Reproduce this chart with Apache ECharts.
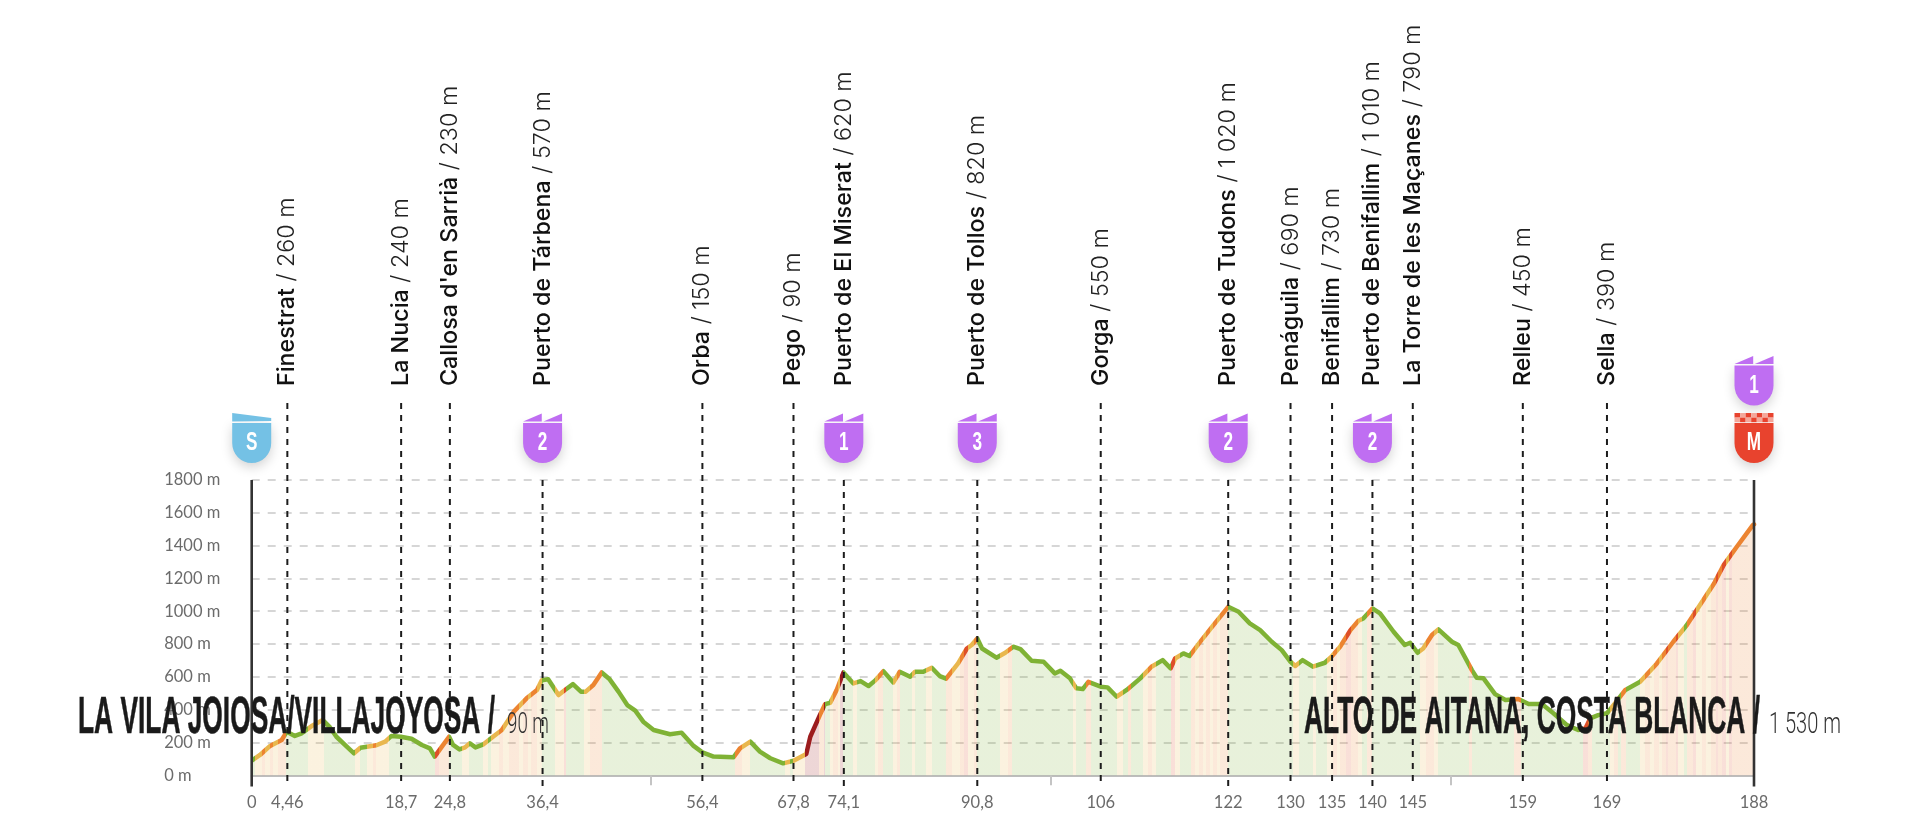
<!DOCTYPE html>
<html><head><meta charset="utf-8">
<style>html,body{margin:0;padding:0;background:#fff}#c{width:1920px;height:834px}</style>
<script src="https://cdn.jsdelivr.net/npm/echarts@6/dist/echarts.min.js"></script>
</head><body><div id="c"></div>
<script>
// elevation profile: [km, metres]
const profile = [[0,90],[1.04,124],[2.3,179],[3.75,215],[4.4,266],[5.4,240],[6.26,256],[7.5,300],[8.9,337],[9.8,292],[10.6,235],[11.9,175],[12.8,134],[13.6,168],[14.6,175],[15.6,183],[16.7,205],[17.5,240],[18.65,235],[20,223],[21.3,185],[22.3,164],[22.9,114],[23.8,175],[24.7,235],[25.2,185],[26,158],[26.7,170],[27.3,195],[28,170],[29,189],[30.2,235],[31.3,276],[32.8,388],[34.4,469],[35.7,520],[36.3,580],[37.1,585],[38.4,489],[39.2,520],[40.2,556],[41.2,510],[41.8,510],[42.75,550],[43.8,627],[44.8,585],[45.9,510],[47,428],[48,394],[49,327],[50.3,276],[52.35,250],[53.8,260],[55.3,179],[56.4,140],[57.8,114],[60.3,110],[61.1,164],[62.4,205],[63.6,144],[64.9,104],[66.5,73],[67.8,89],[69.4,130],[69.9,235],[71.1,367],[71.75,434],[72.4,442],[73.2,520],[74.05,627],[75.3,560],[76.2,574],[77.2,544],[78,577],[79.05,635],[80.3,566],[81.1,631],[82.4,601],[83,631],[84.05,631],[85.1,656],[86.1,605],[86.9,589],[88.4,682],[89.5,773],[90.1,794],[90.8,834],[91.4,773],[93.2,717],[94.3,747],[95.3,784],[96.2,769],[97.6,698],[99.1,692],[100.5,621],[101.2,637],[102.4,591],[103.2,530],[104,526],[104.7,570],[106.25,540],[107.1,536],[108.25,479],[109.5,520],[111.2,591],[112.6,662],[114,702],[115,652],[115.55,712],[116.6,743],[117.35,727],[118.7,814],[120.35,916],[122.2,1027],[123.5,997],[124.9,926],[126.2,885],[127.65,814],[128.9,763],[130,692],[130.6,666],[131.5,702],[132.8,662],[134.3,686],[135.2,727],[136.2,784],[137.5,885],[138.5,942],[139.1,956],[140.25,1017],[141.2,987],[142.9,875],[144.3,794],[144.97,808],[145.9,747],[146.6,773],[147.7,855],[148.5,889],[150.2,814],[151,794],[152.7,641],[153.3,595],[154.15,591],[155.6,495],[156.9,459],[158.5,465],[159.8,434],[161.45,434],[162.9,378],[164.6,306],[166,276],[166.9,286],[167.5,347],[168.5,367],[169.6,378],[170.6,438],[171.9,520],[173.75,570],[175.85,682],[177.9,814],[179.6,916],[181.3,1043],[183,1169],[184.2,1281],[185.85,1393],[187.85,1525],[188,1530]];

// gradient bands along the route: [end km, level] (0 green, 1 yellow, 2 orange, 3 red, 4 dark red)
const gradeBands = [[0.4,0],[1.3,1],[1.7,2],[2.3,1],[2.7,2],[3.3,1],[4.3,2],[7,0],[9,1],[12.9,0],[13.6,1],[14.4,0],[15.2,1],[15.6,2],[17.2,1],[22.9,0],[23.5,3],[24.7,2],[26.3,0],[27.2,1],[29,0],[29.6,1],[30,0],[31,1],[31.5,2],[32.2,1],[33.4,2],[33.9,1],[34.6,2],[35,1],[35.7,2],[36.3,1],[38,0],[39.1,1],[39.3,3],[41.6,0],[42.3,1],[43.8,2],[45,0],[60.5,0],[61.3,2],[62.4,1],[66.7,0],[67.4,1],[67.8,0],[69.3,1],[71,4],[71.6,2],[71.8,4],[72.4,0],[72.8,1],[73.4,2],[73.6,1],[74.05,4],[75.2,0],[75.7,1],[78,0],[78.4,1],[79.05,2],[80.3,0],[80.7,1],[81.1,2],[82.6,0],[83,1],[84.4,0],[85.1,1],[86.9,0],[87.6,2],[88.6,1],[89.1,2],[89.6,3],[90.4,1],[90.8,2],[93.6,0],[94.6,1],[95.2,2],[102.8,0],[103.1,1],[104.4,0],[105,2],[108.3,0],[109,1],[109.6,0],[110,2],[111.5,0],[112.2,1],[112.7,2],[113.2,1],[115,0],[115.6,3],[116.2,1],[117.6,0],[118,2],[118.5,1],[119,2],[119.4,1],[119.9,2],[120.3,1],[120.8,2],[121.2,1],[122.2,2],[130.3,0],[131,1],[132.8,0],[133.2,1],[134.6,0],[135.3,1],[135.8,2],[136.2,1],[137,2],[137.6,3],[138.4,2],[139,1],[139.6,0],[140.25,2],[146.2,0],[147,1],[148,2],[148.5,1],[152.3,0],[152.7,2],[158,0],[158.9,2],[166.6,0],[167.2,3],[167.7,2],[170,0],[170.5,1],[171,2],[171.4,0],[172,2],[173.7,0],[174.3,1],[175,2],[175.5,1],[176.1,2],[176.5,1],[177,2],[177.2,3],[178.2,2],[178.5,3],[179.2,1],[179.6,0],[180.4,2],[180.8,3],[181.5,1],[182,2],[182.6,1],[183.2,2],[183.5,3],[184,2],[184.5,3],[184.9,1],[185.3,3],[188,2]];
const gradeColors = ['#7FB235','#E9B74E','#EC8431','#DE4F28','#9C1C1E'];

// places along the route
const placeNames = ['Finestrat','La Nucia',"Callosa d'en Sarrià",'Puerto de Tárbena','Orba','Pego','Puerto de El Miserat','Puerto de Tollos','Gorga','Puerto de Tudons','Penáguila','Benifallim','Puerto de Benifallim','La Torre de les Maçanes','Relleu','Sella'];
const placeKm = [4.46,18.7,24.8,36.4,56.4,67.8,74.1,90.8,106.25,122.2,130,135.2,140.25,145.3,159.07,169.6];
const placeKmLabel = ['4,46','18,7','24,8','36,4','56,4','67,8','74,1','90,8','106','122','130','135','140','145','159','169'];
const placeAlt = ['260 m','240 m','230 m','570 m','150 m','90 m','620 m','820 m','550 m','1 020 m','690 m','730 m','1 010 m','790 m','450 m','390 m'];
const placeHasBadge = [0,0,0,1,0,0,1,1,0,1,0,0,1,0,0,0];

// badges
const badgeKm = [0,36.4,74.1,90.8,122.2,140.25,188,188];
const badgeText = ['S','2','1','3','2','2','1','M'];
const badgeKind = ['start','climb','climb','climb','climb','climb','climbTop','finish'];

const xMinorTicks = [50,100,150];
const totalKm = 188;

const startTitle = 'LA VILA JOIOSA/VILLAJOYOSA /';
const startAlt = '90 m';
const finishTitle = 'ALTO DE AITANA, COSTA BLANCA /';
const finishAlt = '1 530 m';

const xLabelMap = {0:'0'}; xLabelMap[totalKm] = String(totalKm);
placeKm.forEach((k,i)=>{xLabelMap[k]=placeKmLabel[i];});

const pieces = [];
let prev = 0;
gradeBands.forEach(b => { pieces.push({gte: prev, lt: b[0], color: gradeColors[b[1]]}); prev = b[0]; });
pieces[pieces.length-1].lte = 188.5; delete pieces[pieces.length-1].lt;

const chart = echarts.init(document.getElementById('c'), null, {renderer:'canvas'});

const TOP = 480, BOTTOM_TAIL = 786.5, LABEL_Y = 386;

function guideItem(params, api){
  const i = api.value(1), x = api.coord([api.value(0),0])[0];
  return {type:'group', children:[
    {type:'line', shape:{x1:x,y1:placeHasBadge[i]?TOP:403,x2:x,y2:BOTTOM_TAIL}, style:{stroke:'#1c1c1c',lineWidth:2,lineDash:[6,6]}},
    {type:'text', x:x, y:LABEL_Y, rotation:Math.PI/2, style:{
      text:'{n|'+placeNames[i]+'}{v| / '+placeAlt[i]+'}', align:'left', verticalAlign:'middle',
      rich:{n:{font:"500 23.3px 'Inter','Liberation Sans',sans-serif",fill:'#111'},v:{font:"300 23.3px 'Inter','Liberation Sans',sans-serif",fill:'#222'}}
    }}
  ]};
}
function edgeItem(params, api){
  const x = api.coord([api.value(0),0])[0];
  return {type:'line', shape:{x1:x,y1:TOP,x2:x,y2:BOTTOM_TAIL}, style:{stroke:'#333',lineWidth:2.6}};
}
function badgeItem(params, api){
  const i = api.value(1), cx = api.coord([api.value(0),0])[0];
  const kind = badgeKind[i];
  const top = kind==='climbTop' ? 355.5 : 413;
  const col = kind==='start' ? '#74C1E5' : kind==='finish' ? '#E8432E' : '#BF6EF2';
  const shadow = {shadowBlur:12,shadowColor:'rgba(0,0,0,0.18)',shadowOffsetY:4};
  const kids = [{type:'path', shape:{pathData:'M0 0H39V20A19.5 20 0 0 1 0 20Z',x:cx-19.5,y:top+10,width:39,height:40}, style:Object.assign({fill:col},shadow)}];
  if(kind==='start'){
    kids.push({type:'polygon',shape:{points:[[cx-19.5,top],[cx+19.5,top+5],[cx+19.5,top+8],[cx-19.5,top+8.5]]},style:{fill:col}});
  } else if(kind==='finish'){
    for(let r=0;r<2;r++) for(let c=0;c<7;c++){
      kids.push({type:'rect',shape:{x:cx-19.5+c*5.57,y:top+r*4.6,width:5.57,height:4.6},style:{fill:(r+c)%2? '#F4A79A':col}});
    }
  } else {
    kids.push({type:'polygon',shape:{points:[[cx-19.5,top+8.5],[cx-0.8,top+0.5],[cx-0.8,top+8.5]]},style:{fill:col}});
    kids.push({type:'polygon',shape:{points:[[cx+0.8,top+8.5],[cx+19.5,top+0.5],[cx+19.5,top+8.5]]},style:{fill:col}});
  }
  kids.push({type:'text',x:cx,y:top+30,scaleX:0.66,style:{text:badgeText[i],align:'center',verticalAlign:'middle',font:"bold 26px 'Liberation Sans Narrow','Liberation Sans',sans-serif",fill:'#fff'}});
  return {type:'group',children:kids};
}

function fitText(text, font, x, midY, width, fill, extra){
  const ctx = document.createElement('canvas').getContext('2d');
  ctx.font = font;
  const w = ctx.measureText(text).width;
  return {type:'text',x:x,y:midY,scaleX:width/w,z:100,
    style:Object.assign({text:text,font:font,fill:fill,align:'left',verticalAlign:'middle'},extra||{})};
}

chart.setOption({
  animation:false,
  backgroundColor:'#fff',
  grid:{left:251.7,right:1920-1754,top:TOP,bottom:834-775.3,containLabel:false},
  xAxis:{type:'value',min:0,max:totalKm,
    axisLine:{show:true,onZero:false,lineStyle:{color:'#BDBDBD',width:2}},
    axisTick:{show:true,customValues:xMinorTicks,length:10,lineStyle:{color:'#C4C4C4',width:2}},
    axisLabel:{show:true,customValues:Object.keys(xLabelMap).map(Number),formatter:v=>xLabelMap[v],margin:19,color:'#6b6b6b',fontFamily:"Lato,'Noto Sans',sans-serif",fontSize:16.5,hideOverlap:false,showMinLabel:true,showMaxLabel:true},
    splitLine:{show:false}},
  yAxis:{type:'value',min:0,max:1800,interval:200,
    axisLine:{show:false},axisTick:{show:false},
    axisLabel:{formatter:v=>v+' m',align:'left',margin:87.5,color:'#6b6b6b',fontFamily:"Lato,'Noto Sans',sans-serif",fontSize:16.5},
    splitLine:{show:true,lineStyle:{color:'#CDCDCD',width:1.6,type:[8,8]}}},
  visualMap:{show:false,type:'piecewise',seriesIndex:0,dimension:0,pieces:pieces},
  series:[
    {type:'line',data:profile,showSymbol:false,smooth:false,z:3,
      lineStyle:{width:4.5,cap:'round',join:'round'},areaStyle:{opacity:0.18},emphasis:{disabled:true},silent:true},
    {type:'custom',data:placeKm.map((k,i)=>[k,i]),renderItem:guideItem,encode:{x:0,y:-1},z:4,silent:true},
    {type:'custom',data:[[0],[totalKm]],renderItem:edgeItem,encode:{x:0},z:5,silent:true},
    {type:'custom',data:badgeKm.map((k,i)=>[k,i]),renderItem:badgeItem,encode:{x:0},z:6,silent:true}
  ],
  graphic:[
    fitText(startTitle,"bold 52px 'Liberation Sans Narrow','Liberation Sans',sans-serif",78,718.5,417,'#1a1a1a',{stroke:'#1a1a1a',lineWidth:0.6}),
    fitText(startAlt,"300 30px Roboto,sans-serif",507,725,42,'#333'),
    fitText(finishTitle,"bold 52px 'Liberation Sans Narrow','Liberation Sans',sans-serif",1304,718.5,456,'#1a1a1a',{stroke:'#1a1a1a',lineWidth:0.6}),
    fitText(finishAlt,"300 30px Roboto,sans-serif",1769,725,72,'#333')
  ]
});
</script></body></html>
